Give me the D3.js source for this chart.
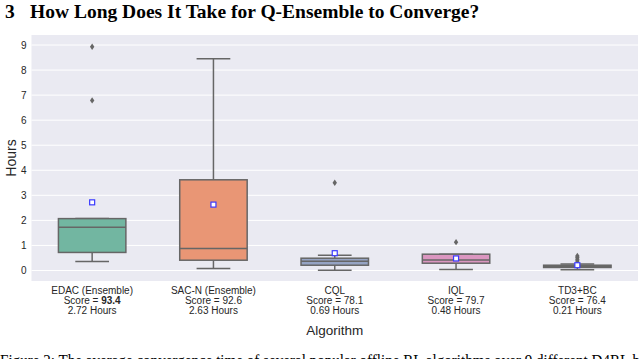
<!DOCTYPE html>
<html>
<head>
<meta charset="utf-8">
<script src="https://cdn.jsdelivr.net/npm/d3@7/dist/d3.min.js"></script>
<style>
  body { margin: 0; background: #fff; }
  svg { display: block; }
</style>
</head>
<body>
<div id="chart"></div>
<script>
var width  = 640;
var height = 359;

// ------------- data -----------------
var algorithms  = ["EDAC (Ensemble)", "SAC-N (Ensemble)", "CQL", "IQL", "TD3+BC"];
var scores      = ["93.4", "92.6", "78.1", "79.7", "76.4"];
var meanHours   = [2.72, 2.63, 0.69, 0.48, 0.21];
var q1          = [0.72, 0.41, 0.21, 0.29, 0.12];
var medians     = [1.73, 0.88, 0.37, 0.42, 0.17];
var q3          = [2.07, 3.62, 0.49, 0.65, 0.21];
var whiskerLow  = [0.36, 0.08, 0.01, 0.04, 0.03];
var whiskerHigh = [2.07, 8.45, 0.61, 0.65, 0.26];
var outliers    = [[8.93, 6.79], [], [3.50], [1.13], [0.38, 0.45, 0.52, 0.58]];
var yTicks      = [0, 1, 2, 3, 4, 5, 6, 7, 8, 9];

var boxColors = ["#72b6a1", "#e99675", "#95a3c3", "#db96c0", "#a2c865"];
var lineGray  = "#666666";

const plotLeft   = 31.5;
const plotRight  = 638;
const plotTop    = 35;
const plotBottom = 281;

const sans  = "'Liberation Sans', Arial, sans-serif";
const serif = "'Liberation Serif', 'DejaVu Serif', serif";

var svg = d3.select("#chart").append("svg")
    .attr("width", width)
    .attr("height", height);

// ------------- section title -----------------
svg.append("text")
    .attr("x", 5).attr("y", 17.5)
    .style("font-family", serif)
    .style("font-weight", "bold")
    .style("font-size", "19.5px")
    .attr("fill", "#000")
    .text("3");
svg.append("text")
    .attr("x", 30).attr("y", 17.5)
    .style("font-family", serif)
    .style("font-weight", "bold")
    .style("font-size", "19.5px")
    .attr("fill", "#000")
    .text("How Long Does It Take for Q-Ensemble to Converge?");

// ------------- scales -----------------
var x = d3.scaleBand()
    .domain(algorithms)
    .range([plotLeft, plotRight])
    .paddingInner(0).paddingOuter(0);

var y = d3.scaleLinear()
    .domain([-0.42, 9.4])
    .range([plotBottom, plotTop]);

var boxWidth = x.bandwidth() * 0.556;

// background + grid
svg.append("rect")
    .attr("x", plotLeft).attr("y", plotTop)
    .attr("width", plotRight - plotLeft)
    .attr("height", plotBottom - plotTop)
    .attr("fill", "#eaeaf2");

svg.append("g")
    .selectAll("line")
    .data(yTicks)
    .enter()
  .append("line")
    .attr("x1", plotLeft).attr("x2", plotRight)
    .attr("y1", d => y(d)).attr("y2", d => y(d))
    .attr("stroke", "#fff")
    .attr("stroke-width", 1);

// y axis
var yAxis = svg.append("g")
    .attr("transform", "translate(" + plotLeft + ",0)")
    .call(d3.axisLeft(y).tickValues(yTicks).tickSize(0).tickPadding(5));
yAxis.select(".domain").remove();
yAxis.selectAll("text")
    .style("font-family", sans)
    .style("font-size", "10px")
    .attr("fill", "#262626");

svg.append("text")
    .attr("transform", "translate(16," + ((plotTop + plotBottom) / 2) + ") rotate(-90)")
    .attr("text-anchor", "middle")
    .style("font-family", sans)
    .style("font-size", "14px")
    .attr("fill", "#262626")
    .text("Hours");

// x axis (three line labels)
var xAxis = svg.append("g")
    .attr("transform", "translate(0," + plotBottom + ")")
    .call(d3.axisBottom(x).tickSize(0).tickFormat(""));
xAxis.select(".domain").remove();

var labelGroups = svg.append("g")
    .selectAll("g")
    .data(algorithms)
    .enter()
  .append("g")
    .attr("transform", d => "translate(" + (x(d) + x.bandwidth() / 2) + ",0)")
    .style("font-family", sans)
    .style("font-size", "10px")
    .attr("fill", "#262626")
    .attr("text-anchor", "middle");

labelGroups.append("text")
    .attr("y", 294)
    .text(d => d);

labelGroups.append("text")
    .attr("y", 304)
    .each(function(d, i) {
      var t = d3.select(this);
      t.append("tspan").text("Score = ");
      t.append("tspan")
          .style("font-weight", i == 0 ? "bold" : "normal")
          .text(scores[i]);
    });

labelGroups.append("text")
    .attr("y", 314)
    .text((d, i) => meanHours[i].toFixed(2) + " Hours");

svg.append("text")
    .attr("x", (plotLeft + plotRight) / 2)
    .attr("y", 335)
    .attr("text-anchor", "middle")
    .style("font-family", sans)
    .style("font-size", "13.5px")
    .attr("fill", "#262626")
    .text("Algorithm");

// ------------- boxes -----------------
var boxes = svg.append("g")
    .selectAll("g")
    .data(algorithms)
    .enter()
  .append("g")
    .attr("transform", d => "translate(" + (x(d) + x.bandwidth() / 2) + ",0)");

// whiskers
boxes.append("line")
    .attr("x1", 0).attr("x2", 0)
    .attr("y1", (d, i) => y(q3[i])).attr("y2", (d, i) => y(whiskerHigh[i]))
    .attr("stroke", lineGray).attr("stroke-width", 1.5);
boxes.append("line")
    .attr("x1", 0).attr("x2", 0)
    .attr("y1", (d, i) => y(q1[i])).attr("y2", (d, i) => y(whiskerLow[i]))
    .attr("stroke", lineGray).attr("stroke-width", 1.5);
boxes.append("line")
    .attr("x1", -boxWidth / 4).attr("x2", boxWidth / 4)
    .attr("y1", (d, i) => y(whiskerHigh[i])).attr("y2", (d, i) => y(whiskerHigh[i]))
    .attr("stroke", lineGray).attr("stroke-width", 1.5);
boxes.append("line")
    .attr("x1", -boxWidth / 4).attr("x2", boxWidth / 4)
    .attr("y1", (d, i) => y(whiskerLow[i])).attr("y2", (d, i) => y(whiskerLow[i]))
    .attr("stroke", lineGray).attr("stroke-width", 1.5);

// box body
boxes.append("rect")
    .attr("x", -boxWidth / 2)
    .attr("width", boxWidth)
    .attr("y", (d, i) => y(q3[i]))
    .attr("height", (d, i) => y(q1[i]) - y(q3[i]))
    .attr("fill", (d, i) => boxColors[i])
    .attr("stroke", lineGray)
    .attr("stroke-width", 1.5);

// median
boxes.append("line")
    .attr("x1", -boxWidth / 2).attr("x2", boxWidth / 2)
    .attr("y1", (d, i) => y(medians[i])).attr("y2", (d, i) => y(medians[i]))
    .attr("stroke", lineGray).attr("stroke-width", 1.5);

// outliers (diamonds)
boxes.each(function(d, i) {
  d3.select(this).selectAll("path.outlier")
      .data(outliers[i])
      .enter()
    .append("path")
      .attr("class", "outlier")
      .attr("d", "M0,-3.2L2.2,0L0,3.2L-2.2,0Z")
      .attr("transform", v => "translate(0," + y(v) + ")")
      .attr("fill", lineGray);
});

// mean markers
boxes.append("rect")
    .attr("x", -2.5)
    .attr("y", (d, i) => y(meanHours[i]) - 2.5)
    .attr("width", 5).attr("height", 5)
    .attr("fill", "#fff")
    .attr("stroke", "#3a3aff")
    .attr("stroke-width", 1.2);

// ------------- caption (cut by page edge, as in the source page) -----------------
svg.append("text")
    .attr("x", 0).attr("y", 366)
    .attr("textLength", 640)
    .attr("lengthAdjust", "spacingAndGlyphs")
    .style("font-family", serif)
    .style("font-size", "17px")
    .attr("fill", "#000")
    .text("Figure 2: The average convergence time of several popular offline RL algorithms over 9 different D4RL b");
</script>
</body>
</html>
